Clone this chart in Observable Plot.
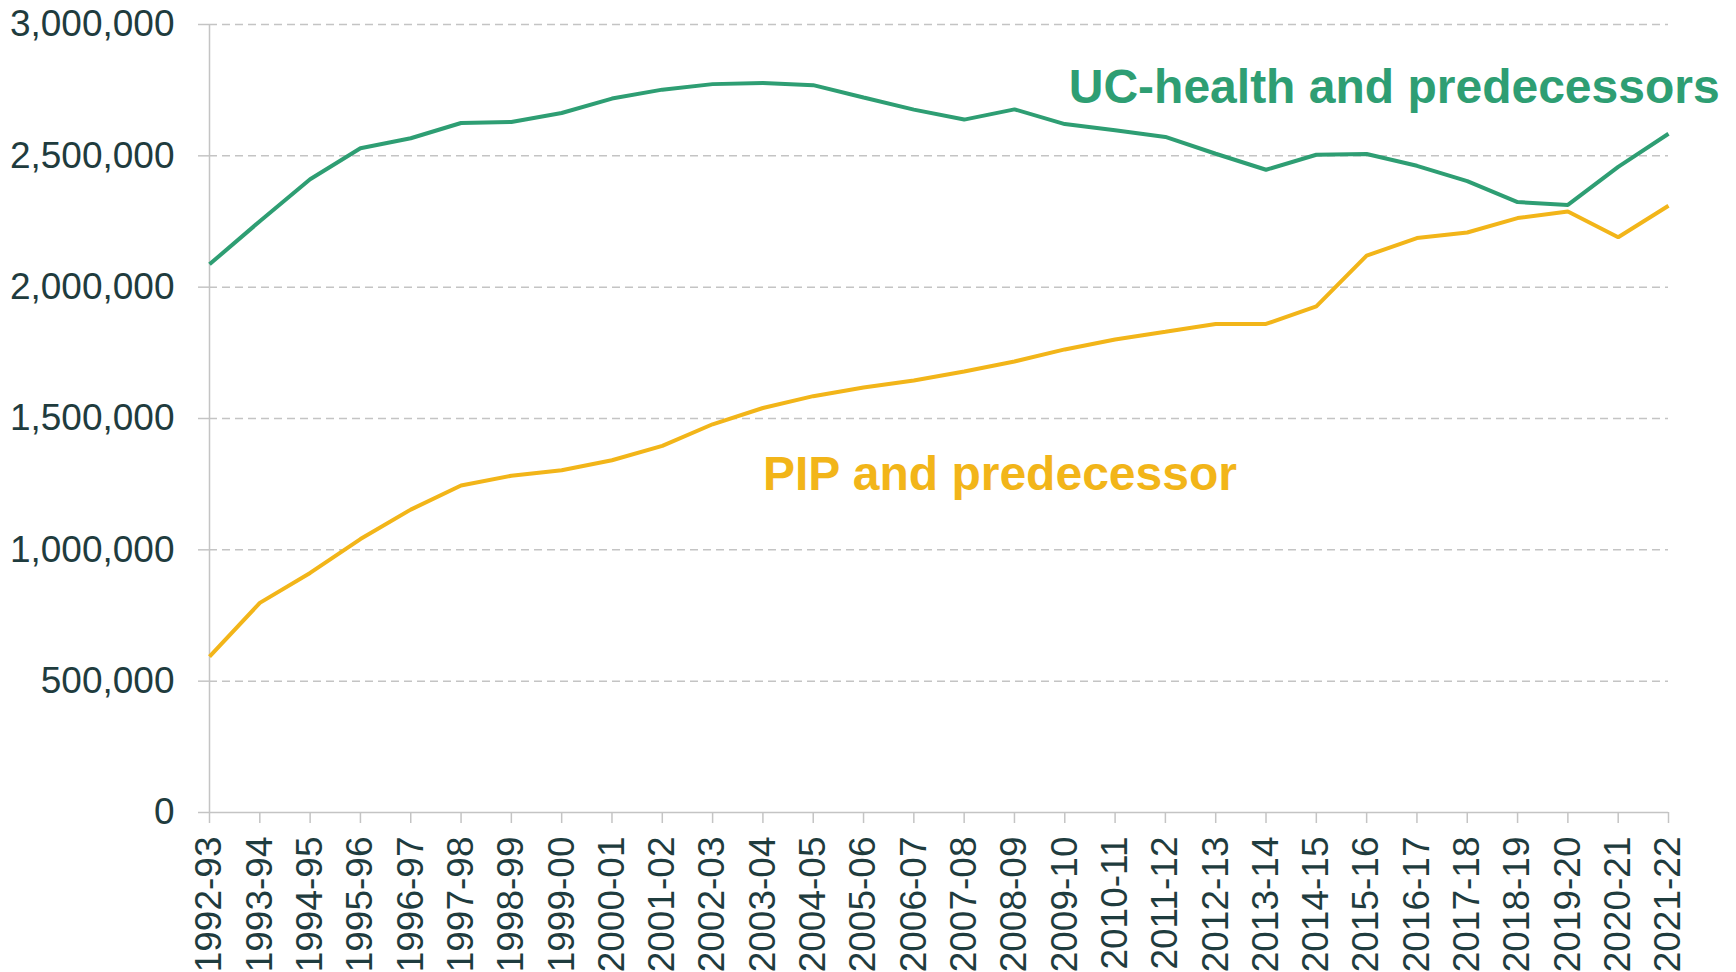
<!DOCTYPE html>
<html>
<head>
<meta charset="utf-8">
<script src="https://cdn.jsdelivr.net/npm/d3@7"></script>
<script src="https://cdn.jsdelivr.net/npm/@observablehq/plot@0.6"></script>
<style>
  html, body { margin: 0; padding: 0; background: #ffffff; overflow: hidden; }
  #chart { width: 1736px; height: 972px; }
  #chart svg { display: block; }
</style>
</head>
<body>
<div id="chart"></div>
<script>
const years = ["1992-93","1993-94","1994-95","1995-96","1996-97","1997-98","1998-99","1999-00","2000-01","2001-02","2002-03","2003-04","2004-05","2005-06","2006-07","2007-08","2008-09","2009-10","2010-11","2011-12","2012-13","2013-14","2014-15","2015-16","2016-17","2017-18","2018-19","2019-20","2020-21","2021-22"];

const ucHealth = [2087000,2251000,2411000,2529000,2567000,2625000,2629000,2663000,2718000,2752000,2773000,2777000,2769000,2722000,2676000,2638000,2677000,2621000,2597000,2572000,2508000,2447000,2504000,2507000,2462000,2404000,2324000,2313000,2458000,2584000];

const pip = [593000,798000,912000,1041000,1153000,1245000,1282000,1303000,1341000,1396000,1478000,1540000,1585000,1618000,1645000,1679000,1717000,1763000,1801000,1830000,1860000,1860000,1927000,2120000,2187000,2208000,2263000,2288000,2190000,2310000];

const yTicks = [0,500000,1000000,1500000,2000000,2500000,3000000];

const seriesNames = ["UC-health and predecessors", "PIP and predecessor"];
const seriesColors = ["#2e9e73", "#f2b519"];
// label anchors: category where label starts, value at baseline
const labelYears = ["2009-10", "2003-04"];
const labelValues = [2700000, 1226000];

const rows = [];
years.forEach((yr, i) => {
  rows.push({year: yr, value: ucHealth[i], series: seriesNames[0]});
  rows.push({year: yr, value: pip[i], series: seriesNames[1]});
});
const labels = seriesNames.map((s, i) => ({series: s, year: labelYears[i], value: labelValues[i]}));

const textColor = "#1f3c3e";
const axisGrey = "#c4c4c4";

const chart = Plot.plot({
  width: 1736,
  height: 972,
  marginLeft: 209,
  marginRight: 68,
  marginTop: 24,
  marginBottom: 160,
  style: {fontFamily: "'Liberation Sans', Arial, sans-serif", background: "#ffffff", color: textColor},
  x: {type: "point", domain: years, padding: 0, round: false},
  y: {domain: [0, 3000000]},
  color: {domain: seriesNames, range: seriesColors},
  marks: [
    Plot.ruleY(yTicks.filter(d => d > 0), {stroke: axisGrey, strokeWidth: 1.5, strokeDasharray: "8,5", strokeOpacity: 1}),
    Plot.ruleX([years[0]], {y1: 0, y2: 3000000, stroke: axisGrey, strokeWidth: 1.5}),
    Plot.ruleY([0], {stroke: axisGrey, strokeWidth: 1.5}),
    Plot.axisY({
      ticks: yTicks,
      tickSize: 11,
      tickPadding: 24,
      fontSize: 37,
      stroke: axisGrey,
      strokeWidth: 1.5,
      fill: textColor,
      label: null,
      tickFormat: d => d3.format(",")(d)
    }),
    Plot.axisX({
      tickSize: 11,
      tickPadding: 13,
      tickRotate: -90,
      fontSize: 37,
      stroke: axisGrey,
      strokeWidth: 1.5,
      fill: textColor,
      label: null
    }),
    Plot.line(rows, {x: "year", y: "value", z: "series", stroke: "series", strokeWidth: 4, strokeLinejoin: "miter", strokeLinecap: "butt"}),
    Plot.text(labels.slice(0, 1), {x: "year", y: "value", text: "series", fill: "series", fontSize: 48, fontWeight: "bold", textAnchor: "start", lineAnchor: "bottom", dx: 4}),
    Plot.text(labels.slice(1), {x: "year", y: "value", text: "series", fill: "series", fontSize: 48, fontWeight: "bold", textAnchor: "start", lineAnchor: "bottom"})
  ]
});
document.getElementById("chart").appendChild(chart);
</script>
</body>
</html>
